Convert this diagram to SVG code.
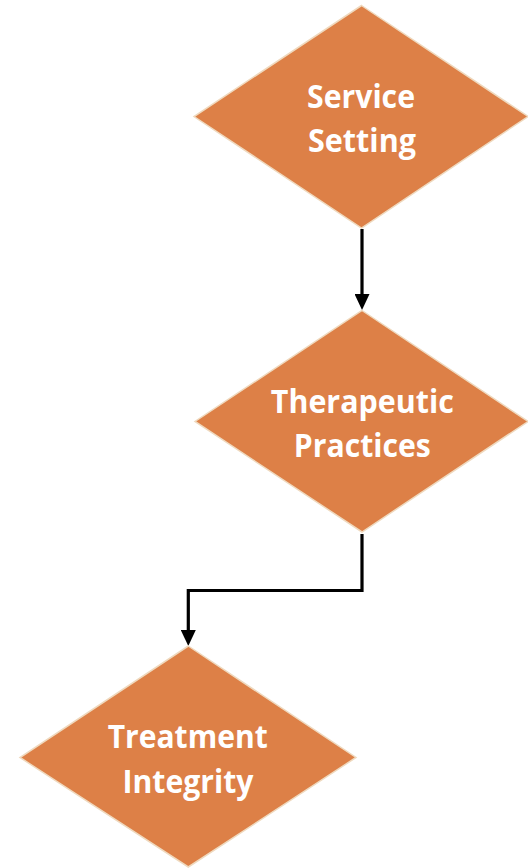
<svg xmlns="http://www.w3.org/2000/svg" width="528" height="868" viewBox="0 0 528 868">
<defs>
<style>
.d{fill:#DD8047;stroke:#EFD9BE;stroke-width:1.5}
.t{font-family:"Open Sans","Liberation Sans",sans-serif;font-weight:bold;font-size:33px;fill:#FFFFFF;text-anchor:middle}
.c{fill:none;stroke:#000;stroke-width:3.2}
</style>
<marker id="ah" markerUnits="userSpaceOnUse" markerWidth="16" markerHeight="15" refX="2" refY="7.5" orient="auto" viewBox="0 0 16 15">
<path d="M0,0 L16,7.5 L0,15 Z" fill="#000"/>
</marker>
</defs>
<rect width="528" height="868" fill="#FFFFFF"/>
<g id="connectors">
<path class="c" d="M362,229 L362,296" marker-end="url(#ah)"/>
<path class="c" d="M362,534 L362,590.5 L188.3,590.5 L188.3,632" marker-end="url(#ah)"/>
</g>
<g id="service-setting">
<polygon class="d" points="361.5,5.5 528,116.5 361.5,228 194,116.5"/>
<text class="t" x="361" y="108.3" textLength="108" lengthAdjust="spacingAndGlyphs">Service</text>
<text class="t" x="362" y="151.7" textLength="108" lengthAdjust="spacingAndGlyphs">Setting</text>
</g>
<g id="therapeutic-practices">
<polygon class="d" points="362,310.5 528,421.5 362,532 195,421.5"/>
<text class="t" x="362.3" y="412.7" textLength="183" lengthAdjust="spacingAndGlyphs">Therapeutic</text>
<text class="t" x="362.3" y="457.3" textLength="137" lengthAdjust="spacingAndGlyphs">Practices</text>
</g>
<g id="treatment-integrity">
<polygon class="d" points="188.3,646 356,757.5 188.3,867 20,757.5"/>
<text class="t" x="187.7" y="748.3" textLength="160" lengthAdjust="spacingAndGlyphs">Treatment</text>
<text class="t" x="188" y="793.3" textLength="131" lengthAdjust="spacingAndGlyphs">Integrity</text>
</g>
</svg>
